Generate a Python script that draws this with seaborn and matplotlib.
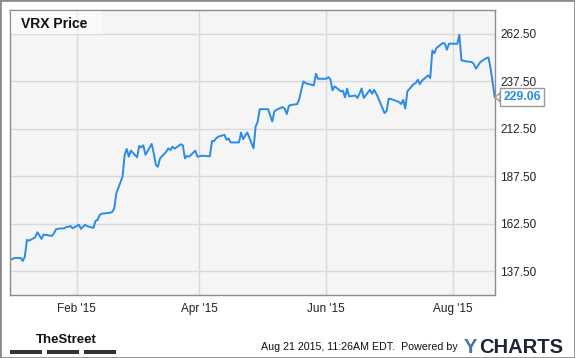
import matplotlib
matplotlib.use("Agg")
import matplotlib.pyplot as plt
import seaborn as sns
import pandas as pd
from matplotlib.patches import Rectangle, Polygon
from matplotlib.transforms import blended_transform_factory

# ---------------- data ----------------
dates = [
    "2014-12-31", "2015-01-02", "2015-01-05", "2015-01-06", "2015-01-07", "2015-01-08",
    "2015-01-09", "2015-01-12", "2015-01-13", "2015-01-14", "2015-01-15", "2015-01-16",
    "2015-01-20", "2015-01-21", "2015-01-22", "2015-01-23", "2015-01-26", "2015-01-27",
    "2015-01-28", "2015-01-29", "2015-01-30", "2015-02-02", "2015-02-03", "2015-02-04",
    "2015-02-05", "2015-02-06", "2015-02-09", "2015-02-10", "2015-02-11", "2015-02-12",
    "2015-02-13", "2015-02-17", "2015-02-18", "2015-02-19", "2015-02-20", "2015-02-23",
    "2015-02-24", "2015-02-25", "2015-02-26", "2015-02-27", "2015-03-02", "2015-03-03",
    "2015-03-04", "2015-03-05", "2015-03-06", "2015-03-09", "2015-03-10", "2015-03-11",
    "2015-03-12", "2015-03-13", "2015-03-16", "2015-03-17", "2015-03-18", "2015-03-19",
    "2015-03-20", "2015-03-23", "2015-03-24", "2015-03-25", "2015-03-26", "2015-03-27",
    "2015-03-30", "2015-03-31", "2015-04-01", "2015-04-02", "2015-04-06", "2015-04-07",
    "2015-04-08", "2015-04-09", "2015-04-10", "2015-04-13", "2015-04-14", "2015-04-15",
    "2015-04-16", "2015-04-17", "2015-04-20", "2015-04-21", "2015-04-22", "2015-04-23",
    "2015-04-24", "2015-04-27", "2015-04-28", "2015-04-29", "2015-04-30", "2015-05-01",
    "2015-05-04", "2015-05-05", "2015-05-06", "2015-05-07", "2015-05-08", "2015-05-11",
    "2015-05-12", "2015-05-13", "2015-05-14", "2015-05-15", "2015-05-18", "2015-05-19",
    "2015-05-20", "2015-05-21", "2015-05-22", "2015-05-26", "2015-05-27", "2015-05-28",
    "2015-05-29", "2015-06-01", "2015-06-02", "2015-06-03", "2015-06-04", "2015-06-05",
    "2015-06-08", "2015-06-09", "2015-06-10", "2015-06-11", "2015-06-12", "2015-06-15",
    "2015-06-16", "2015-06-17", "2015-06-18", "2015-06-19", "2015-06-22", "2015-06-23",
    "2015-06-24", "2015-06-25", "2015-06-26", "2015-06-29", "2015-06-30", "2015-07-01",
    "2015-07-02", "2015-07-06", "2015-07-07", "2015-07-08", "2015-07-09", "2015-07-10",
    "2015-07-13", "2015-07-14", "2015-07-15", "2015-07-16", "2015-07-17", "2015-07-20",
    "2015-07-21", "2015-07-22", "2015-07-23", "2015-07-24", "2015-07-27", "2015-07-28",
    "2015-07-29", "2015-07-30", "2015-07-31", "2015-08-03", "2015-08-04", "2015-08-05",
    "2015-08-06", "2015-08-07", "2015-08-10", "2015-08-11", "2015-08-12", "2015-08-13",
    "2015-08-14", "2015-08-17", "2015-08-18", "2015-08-19", "2015-08-20", "2015-08-21",
]
prices = [
    143.4, 144.5, 144.5, 142.9, 145.2, 154.0,
    153.6, 155.4, 158.0, 156.4, 154.5, 156.8,
    156.1, 157.5, 159.6, 159.9, 160.1, 160.8,
    160.9, 161.3, 160.1, 162.0, 159.8, 161.0,
    161.9, 161.2, 160.3, 164.0, 164.5, 167.1,
    167.8, 168.3, 168.7, 170.6, 178.5, 187.3,
    198.7, 201.9, 197.8, 201.0, 197.5, 203.4,
    202.7, 203.8, 198.8, 204.5, 199.6, 193.4,
    192.5, 196.9, 200.4, 202.2, 201.3, 203.1,
    202.0, 204.3, 203.8, 196.9, 198.2, 197.8,
    201.0, 197.8, 198.0, 198.3, 198.0, 206.0,
    206.0, 207.4, 208.3, 209.3, 206.7, 207.4,
    205.3, 205.3, 205.3, 210.5, 207.0, 209.0,
    210.5, 202.2, 213.6, 216.3, 222.8, 222.8,
    222.8, 219.5, 216.3, 221.6, 222.5, 223.9,
    223.0, 220.2, 224.6, 225.0, 225.5, 228.1,
    233.0, 237.4, 236.5, 235.3, 241.4, 238.8,
    238.8, 238.8, 239.7, 238.4, 232.7, 234.8,
    232.2, 232.5, 229.0, 233.6, 229.5, 230.0,
    228.7, 231.0, 233.7, 228.7, 233.0, 230.9,
    233.0, 231.0, 228.7, 220.7, 221.9, 228.3,
    228.2, 226.6, 225.5, 227.7, 223.1, 232.2,
    236.0, 236.5, 238.3, 236.0, 237.8, 240.6,
    239.2, 253.6, 252.3, 255.0, 257.6, 257.4,
    254.1, 257.2, 257.3, 257.2, 262.0, 248.5,
    248.3, 248.0, 247.6, 246.5, 244.1, 245.8,
    247.5, 249.7, 250.0, 244.4, 237.0, 229.06,
]
y_ticks = [137.5, 162.5, 187.5, 212.5, 237.5, 262.5]
x_tick_dates = ["2015-02-01", "2015-04-01", "2015-06-01", "2015-08-01"]
x_tick_labels = ["Feb '15", "Apr '15", "Jun '15", "Aug '15"]
title_text = "VRX Price"
last_label = "229.06"
footer_text = "Aug 21 2015, 11:26AM EDT.  Powered by"

# ---------------- style ----------------
sns.set_theme(style="white")
plt.rcParams['font.family'] = ['Liberation Sans', 'DejaVu Sans']

W, H = 575, 358
fig = plt.figure(figsize=(W / 100, H / 100), dpi=100)
fig.patch.set_facecolor("white")


def fx(px):
    return px / W


def fy(py):
    return 1 - py / H


ax = fig.add_axes([fx(10.3), fy(295), fx(494.7) - fx(10.3), fy(10) - fy(295)])
df = pd.DataFrame({"date": pd.to_datetime(dates), "price": prices})
sns.lineplot(data=df, x="date", y="price", ax=ax, color="#2a8ce8", linewidth=1.4)

ax.set_facecolor("#f5f5f5")
ax.set_xlim(pd.Timestamp("2014-12-31"), pd.Timestamp("2015-08-21"))
ax.set_ylim(125, 275)
ax.set_yticks(y_ticks)
ax.set_yticklabels([f"{v:.2f}" for v in y_ticks])
ax.yaxis.tick_right()
ax.set_xticks(pd.to_datetime(x_tick_dates))
ax.set_xticklabels(x_tick_labels)
ax.grid(True, color="#d9d9d9", linewidth=1)
ax.set_axisbelow(True)
ax.tick_params(axis="y", length=0, labelsize=8.5, colors="#222222", pad=4)
ax.tick_params(axis="x", length=0, labelsize=8.5, colors="#222222", pad=6)
for s in ax.spines.values():
    s.set_color("#8c8c8c")
    s.set_linewidth(1)
ax.set_xlabel("")
ax.set_ylabel("")

# title box
fig.patches.append(Rectangle((fx(10.8), fy(34)), fx(102) - fx(10.8), fy(10.5) - fy(34),
                             transform=fig.transFigure, facecolor="white", alpha=0.55,
                             edgecolor="none", zorder=5))
fig.text(fx(21), fy(28.3), title_text, fontsize=10, fontweight="bold",
         color="#111111", va="baseline", ha="left", zorder=6)

# last price label with pointer
trans = blended_transform_factory(ax.transAxes, ax.transData)
ax.text(1.018, prices[-1], last_label, transform=trans, fontsize=8.8, fontweight="bold",
        color="#2a8ce8", va="center", ha="left", clip_on=False, zorder=10,
        bbox=dict(boxstyle="square,pad=0.25", facecolor="white", edgecolor="#999999", lw=1))
yc = ax.transData.transform((0, prices[-1]))[1]
ypix = H - yc
fig.patches.append(Polygon([(fx(500), fy(ypix - 4.5)), (fx(495.2), fy(ypix)), (fx(500), fy(ypix + 4.5))],
                           closed=True, transform=fig.transFigure, facecolor="white",
                           edgecolor="#999999", lw=1, zorder=4))

# footer
fig.text(fx(36), fy(342.7), "TheStreet", fontsize=9.5, fontweight="bold",
         color="#111111", va="baseline", ha="left")
for x0, x1 in [(10.3, 42.2), (47, 78.8), (83.6, 115.5)]:
    fig.patches.append(Rectangle((fx(x0), fy(353.8)), fx(x1) - fx(x0), fy(350) - fy(353.8),
                                 transform=fig.transFigure, facecolor="#333333",
                                 edgecolor="none"))
fig.text(fx(261), fy(350.5), footer_text, fontsize=7.7, color="#111111",
         va="baseline", ha="left")
fig.text(fx(464), fy(353), "Y", fontsize=14.5, fontweight="bold", color="#4a72a6",
         va="baseline", ha="left")
fig.text(fx(479), fy(353), "CHARTS", fontsize=14.5, fontweight="bold", color="#1c2636",
         va="baseline", ha="left")

# outer border
fig.patches.append(Rectangle((0, 0), 1, 1, transform=fig.transFigure, fill=False,
                             edgecolor="#8c8c8c", lw=2))

fig.savefig("out.png", dpi=100, facecolor="white")
